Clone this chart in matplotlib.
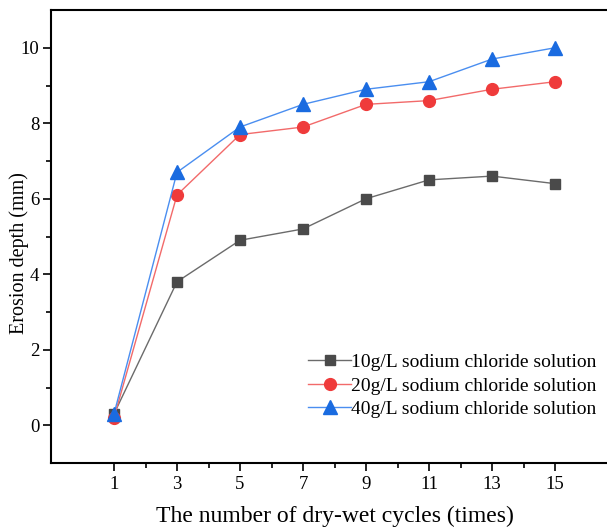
import matplotlib.pyplot as plt

plt.rcParams['font.family'] = ['Liberation Serif', 'DejaVu Serif']

cycles = [1, 3, 5, 7, 9, 11, 13, 15]
depth_10 = [0.3, 3.8, 4.9, 5.2, 6.0, 6.5, 6.6, 6.4]  # 10g/L
depth_20 = [0.2, 6.1, 7.7, 7.9, 8.5, 8.6, 8.9, 9.1]  # 20g/L
depth_40 = [0.3, 6.7, 7.9, 8.5, 8.9, 9.1, 9.7, 10.0]  # 40g/L
labels = ['10g/L sodium chloride solution',
          '20g/L sodium chloride solution',
          '40g/L sodium chloride solution']

fig = plt.figure(figsize=(6.07, 5.30), dpi=100)
ax = fig.add_axes([51/607, 1 - 463/530, (618 - 51)/607, (463 - 10)/530])

ax.plot(cycles, depth_10, color='#6b6b6b', lw=1, marker='s', ms=7,
        mfc='#4a4a4a', mec='#4a4a4a', label=labels[0])
ax.plot(cycles, depth_20, color='#f26a6a', lw=1, marker='o', ms=8.5,
        mfc='#ef3b3b', mec='#ef3b3b', label=labels[1])
ax.plot(cycles, depth_40, color='#4a8ef0', lw=1, marker='^', ms=9.5,
        mfc='#1a6be0', mec='#1a6be0', label=labels[2])

ax.set_xlim(-1, 17)
ax.set_ylim(-1, 11)
ax.set_xticks(cycles)
ax.set_xticks([2, 4, 6, 8, 10, 12, 14], minor=True)
ax.set_yticks([0, 2, 4, 6, 8, 10])
ax.set_yticks([1, 3, 5, 7, 9], minor=True)
ax.tick_params(which='major', direction='out', length=6, width=1.2, labelsize=13.5)
ax.tick_params(axis='y', which='major', pad=2.5)
ax.tick_params(which='minor', direction='out', length=3.5, width=1.2)
for s in ax.spines.values():
    s.set_linewidth(1.5)

ax.set_xlabel('The number of dry-wet cycles (times)', fontsize=17, labelpad=9)
ax.set_ylabel('Erosion depth (mm)', fontsize=14.5)
ax.yaxis.set_label_coords(-0.039, 0.4625)

ax.legend(loc='lower right', bbox_to_anchor=(0.976, 0.082), frameon=False,
          fontsize=14, handlelength=2.2, handletextpad=0.0, labelspacing=0.3,
          borderaxespad=0)

fig.savefig('out.png', dpi=100)
